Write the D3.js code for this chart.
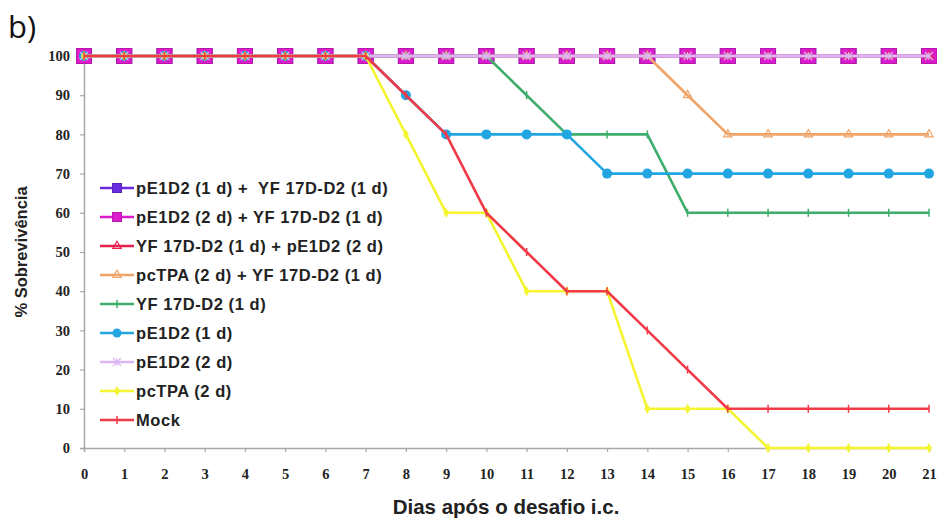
<!DOCTYPE html>
<html><head><meta charset="utf-8">
<script src="https://cdn.jsdelivr.net/npm/d3@7"></script>
<style>body{margin:0;background:#fff}svg{display:block}</style>
</head><body>
<svg id="c" width="937" height="525"></svg>
<script>
const days = d3.range(0, 22);
const yTicks = [0,10,20,30,40,50,60,70,80,90,100];
const seriesNames = [
  "pE1D2 (1 d) +  YF 17D-D2 (1 d)",
  "pE1D2 (2 d) + YF 17D-D2 (1 d)",
  "YF 17D-D2 (1 d) + pE1D2 (2 d)",
  "pcTPA (2 d) + YF 17D-D2 (1 d)",
  "YF 17D-D2 (1 d)",
  "pE1D2 (1 d)",
  "pE1D2 (2 d)",
  "pcTPA (2 d)",
  "Mock"
];
const s1 = [100,100,100,100,100,100,100,100,100,100,100,100,100,100,100,100,100,100,100,100,100,100];
const s2 = [100,100,100,100,100,100,100,100,100,100,100,100,100,100,100,100,100,100,100,100,100,100];
const s3 = [100,100,100,100,100,100,100,100,100,100,100,100,100,100,100,100,100,100,100,100,100,100];
const s4 = [100,100,100,100,100,100,100,100,100,100,100,100,100,100,100,90,80,80,80,80,80,80];
const s5 = [100,100,100,100,100,100,100,100,100,100,100,90,80,80,80,60,60,60,60,60,60,60];
const s6 = [100,100,100,100,100,100,100,100,90,80,80,80,80,70,70,70,70,70,70,70,70,70];
const s7 = [100,100,100,100,100,100,100,100,100,100,100,100,100,100,100,100,100,100,100,100,100,100];
const s8 = [100,100,100,100,100,100,100,100,80,60,60,40,40,40,10,10,10,0,0,0,0,0];
const s9 = [100,100,100,100,100,100,100,100,90,80,60,50,40,40,30,20,10,10,10,10,10,10];
const seriesValues = [s1,s2,s3,s4,s5,s6,s7,s8,s9];
const colors = ["#6a2ae0","#dc1ccc","#e8204e","#f0a468","#3fae6c","#22a6e2","#dcb6f2","#f4f430","#f03a48"];
const markers = ["square","square","triangle","triangle","dash","circle","x","diamond","dash"];

const svg = d3.select("#c");
const x = d3.scaleLinear().domain([0,21]).range([84,929]);
const y = d3.scaleLinear().domain([0,100]).range([448,56]);

svg.append("text").attr("x",8).attr("y",38).attr("font-family","Open Sans, Liberation Sans, sans-serif")
  .attr("font-size",31).attr("fill","#111").text("b)");

const yAxis = svg.append("g").attr("transform","translate(84,0)")
  .call(d3.axisLeft(y).tickValues(yTicks).tickSize(4).tickPadding(10).tickFormat(d3.format("d")));
const xAxis = svg.append("g").attr("transform","translate(0,448)")
  .call(d3.axisBottom(x).tickValues(days).tickSize(4).tickPadding(17).tickFormat(d3.format("d")));
[yAxis,xAxis].forEach(g=>{
  g.select(".domain").attr("stroke","#a8a8a8").attr("stroke-width",1.5);
  g.selectAll(".tick line").attr("stroke","#a8a8a8").attr("stroke-width",1.2);
  g.selectAll("text").attr("font-family","Liberation Serif, serif").attr("font-weight","bold")
    .attr("font-size",14.5).attr("fill","#222");
});

svg.append("text").attr("transform","translate(27,252) rotate(-90)").attr("text-anchor","middle")
  .attr("font-family","Liberation Sans, Arial, sans-serif").attr("font-weight","bold").attr("font-size",16.5)
  .attr("fill","#222").text("% Sobrevivência");
svg.append("text").attr("x",506).attr("y",514).attr("text-anchor","middle")
  .attr("font-family","Liberation Sans, Arial, sans-serif").attr("font-weight","bold").attr("font-size",20.5)
  .attr("fill","#222").text("Dias após o desafio i.c.");

const line = d3.line().x((d,i)=>x(days[i])).y(d=>y(d));

function drawMarker(g, type, cx, cy, color, big) {
  if (type === "square") {
    const s = big ? 15 : 9;
    g.append("rect").attr("x",cx-s/2).attr("y",cy-s/2).attr("width",s).attr("height",s)
      .attr("fill",color).attr("stroke",d3.color(color).darker(0.5)).attr("stroke-width",1);
  } else if (type === "circle") {
    g.append("circle").attr("cx",cx).attr("cy",cy).attr("r",big?5:4.5).attr("fill",color);
  } else if (type === "triangle") {
    g.append("path").attr("d",d3.symbol(d3.symbolTriangle, 30)()).attr("transform",`translate(${cx},${cy})`)
      .attr("fill","none").attr("stroke",color).attr("stroke-width",1.2);
  } else if (type === "dash") {
    g.append("path").attr("d",`M${cx},${cy-4}L${cx},${cy+4}`).attr("stroke",color).attr("stroke-width",1.5);
  } else if (type === "x") {
    g.append("path").attr("d",`M${cx-4},${cy-4}L${cx+4},${cy+4}M${cx+4},${cy-4}L${cx-4},${cy+4}M${cx},${cy-4}L${cx},${cy+4}`)
      .attr("stroke",color).attr("stroke-width",1.2);
  } else if (type === "diamond") {
    g.append("path").attr("d",d3.symbol(d3.symbolDiamond, 30)()).attr("transform",`translate(${cx},${cy})`)
      .attr("fill",color);
  }
}

seriesValues.forEach((vals,k)=>{
  const g = svg.append("g");
  g.append("path").datum(vals).attr("d",line).attr("fill","none").attr("stroke",colors[k])
    .attr("stroke-width", k===6 ? 3.2 : 2.6).attr("stroke-linejoin","round");
  vals.forEach((v,i)=>drawMarker(g, markers[k], x(days[i]), y(v), colors[k], true));
});

const lg = svg.append("g");
seriesNames.forEach((name,k)=>{
  const yy = 188 + k*29;
  lg.append("line").attr("x1",100).attr("x2",134).attr("y1",yy).attr("y2",yy)
    .attr("stroke",colors[k]).attr("stroke-width",2.5);
  drawMarker(lg, markers[k], 117, yy, colors[k], false);
  lg.append("text").attr("x",136).attr("y",yy+6).attr("font-family","Liberation Sans, Arial, sans-serif")
    .attr("font-weight","bold").attr("font-size",16.5).attr("fill","#222").attr("letter-spacing","0.55")
    .style("white-space","pre").text(name);
});
</script>
</body></html>
